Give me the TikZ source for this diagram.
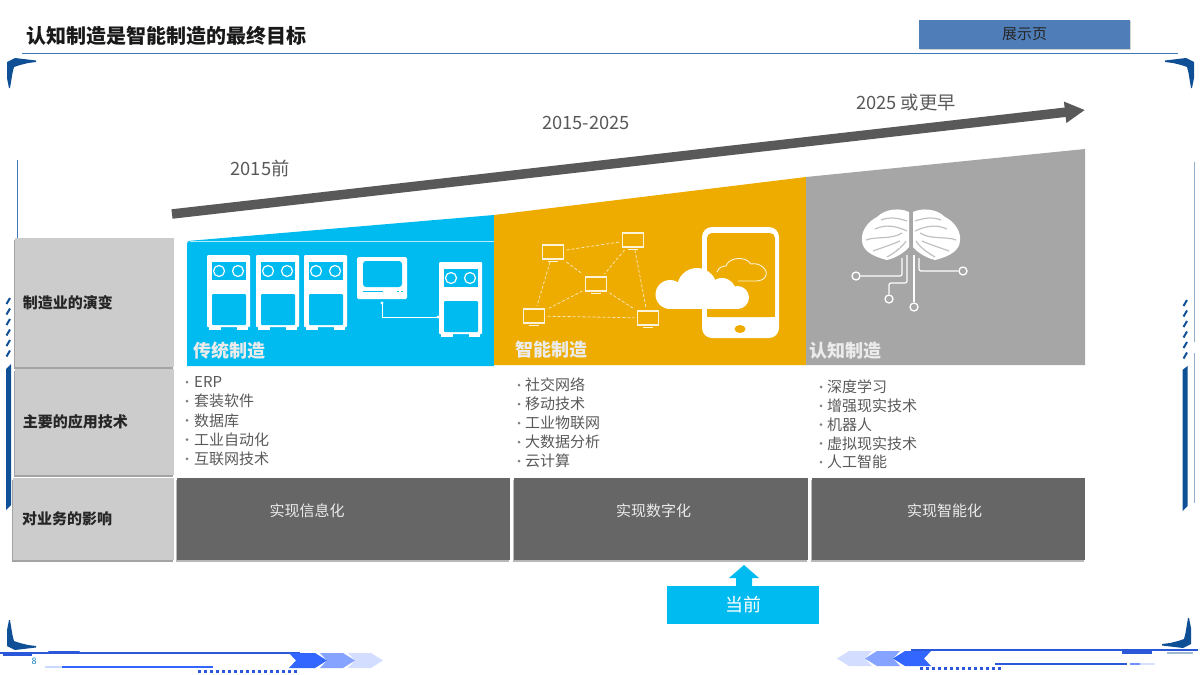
\documentclass[tikz,border=0pt]{standalone}
\usepackage{fontspec}
\usepackage{tikz}
\usetikzlibrary{arrows.meta,shadows}
\setmainfont{Noto Sans CJK SC}
\newcommand{\fsize}[1]{\fontsize{#1}{#1}\selectfont}
\definecolor{skyblue}{RGB}{0,187,240}
\definecolor{amber}{RGB}{238,172,0}
\definecolor{midgray}{RGB}{166,166,166}
\definecolor{lightgray}{RGB}{204,204,204}
\definecolor{darkgray}{RGB}{102,102,102}
\definecolor{navy}{RGB}{15,79,150}
\definecolor{royal}{RGB}{51,102,255}
\definecolor{steel}{RGB}{79,125,184}
\definecolor{ruleblue}{RGB}{60,120,185}
\tikzset{
  rowbox/.style={fill=lightgray,inner xsep=8pt,inner ysep=0pt,text width=143pt,align=left,
    font=\fsize{15}\bfseries,text=black!85,drop shadow={shadow xshift=-1.5pt,shadow yshift=-2pt,fill=black!45,opacity=0.8}},
  effectbox/.style={fill=darkgray,inner sep=0pt,drop shadow={shadow xshift=-1pt,shadow yshift=-1.5pt,fill=black!35,opacity=0.8}},
  stagelabel/.style={font=\fsize{18}\bfseries,text=white!92!black},
  yearlabel/.style={font=\fsize{18.3},text=black!65},
  itemlabel/.style={anchor=west,inner sep=0pt,font=\fsize{15},text=black!65},
  effectlabel/.style={font=\fsize{15},text=white!92!black},
  monitor/.style={draw=white!85!amber,line width=1.2pt,minimum width=21pt,minimum height=14pt,inner sep=0pt,outer sep=3pt},
  netline/.style={white!70!amber,line width=0.8pt,densely dashed},
  ring/.style={circle,draw=white,line width=1.3pt,minimum size=8pt,inner sep=0pt},
  wire/.style={white,line width=1.2pt,rounded corners=2pt},
}
\begin{document}
\begin{tikzpicture}[x=1pt,y=-1pt]
\useasboundingbox (0,0) rectangle (1200,675);

\node[anchor=west,inner sep=0pt,font=\fsize{20}\bfseries,text=black!90] (title) at (26,36) {认知制造是智能制造的最终目标};
\draw[ruleblue,line width=0.8pt] (22,53) -- (1178,53);
\node[fill=steel,minimum width=211pt,minimum height=29pt,inner sep=0pt,font=\fsize{15},text=black!85,
  drop shadow={shadow xshift=0.5pt,shadow yshift=-1pt,fill=black!35}] (showpage) at (1024.5,34.5) {展示页};

\foreach \sx/\sy/\dx/\dy in {1/1/0/0,-1/1/1201/0,1/-1/0/-708,-1/-1/1198/-706} {
  \begin{scope}[xshift=\dx pt,yshift=\dy pt,xscale=\sx,yscale=\sy]
  \fill[navy] (36,60.5) -- (15,58) -- (7,62) -- (7,78) -- (9,88) -- (10,88) -- (12.5,73) -- (14,67) -- (20,65) -- (28,63) -- (36,62) -- cycle;
  \end{scope}
}

\draw[ruleblue,line width=0.9pt] (17,160) -- (17,238);
\draw[navy!45,line width=1pt] (1194,162) -- (1194,342);
\draw[navy!45,line width=1pt] (1194,353) -- (1194,503);
\foreach \y in {0,...,5} {
  \draw[navy,line width=2pt] (6.5,304+10.5*\y) -- (10,298+10.5*\y);
  \draw[navy,line width=2pt] (1183.5,306+10.5*\y) -- (1187,300+10.5*\y);
}
\fill[navy] (6,369) -- (11,364) -- (11,505) -- (6,510) -- cycle;
\fill[navy] (1182.5,370) -- (1187.5,366) -- (1187.5,506) -- (1182.5,511) -- cycle;

\fill[skyblue] (187,366) -- (187,244) .. controls (187,242) and (188,241) .. (190,240.8) -- (494,215) -- (494,366) -- cycle;
\draw[white!70!skyblue,line width=0.6pt] (190,241) -- (494,241);
\fill[amber] (494,215) -- (806,177) -- (806,365) -- (494,365) -- cycle;
\fill[midgray] (806,177) -- (1085,149) -- (1085,365) -- (806,365) -- cycle;

\coordinate (arrowstart) at (172,214);
\coordinate (arrowend) at (1085,110);
\draw[black!65,line width=9.5pt,-{Triangle[width=20pt,length=20pt]}] (arrowstart) -- (arrowend);
\node[yearlabel] (yearone) at (260,168) {2015前};
\node[yearlabel] (yeartwo) at (586,123) {2015-2025};
\node[yearlabel] (yearthree) at (906,103) {2025 或更早};

\foreach \x/\y in {207/255,256/255,304/255,439/262} {
  \begin{scope}[xshift=\x pt,yshift=-\y pt]
  \fill[white,rounded corners=1pt] (0,0) rectangle (43,72);
  \fill[white] (2,72) rectangle (14,74.5);
  \fill[white] (30,72) rectangle (41,74.5);
  \fill[skyblue] (5,7) rectangle (39,25);
  \fill[skyblue,rounded corners=1pt] (5,39) rectangle (39,70);
  \draw[white,line width=1.2pt] (12,16) circle (5.5);
  \draw[white,line width=1.2pt] (31,16) circle (5.5);
  \end{scope}
}
\fill[white,rounded corners=1.5pt] (357,257) rectangle (407,299);
\fill[skyblue,rounded corners=3pt] (363,261) rectangle (402,287);
\fill[skyblue] (363,290.5) rectangle (383,292);
\fill[skyblue] (397,290.5) rectangle (399,292);
\fill[skyblue] (401,290.5) rectangle (403,292);
\fill[white] (382,303) circle (1.6);
\fill[white] (438,317) circle (1.6);
\coordinate (tvport) at (382,303);
\coordinate (serverport) at (438,317);
\draw[white,line width=1pt] (tvport) |- (serverport);
\node[stagelabel] (classic) at (229.5,351) {传统制造};

\foreach \n/\x/\y in {mona/553/252,monb/633/240,monc/596/284,mond/534/316,mone/648/318} {
  \node[monitor] (\n) at (\x,\y) {};
  \draw[white!85!amber,line width=1.2pt] (\x-5,\y+9.5) -- (\x+5,\y+9.5);
}
\foreach \a/\b in {mona/monb,mona/monc,monb/monc,mona/mond,monb/mone,monc/mond,monc/mone,mond/mone} {
  \draw[netline] (\a) -- (\b);
}
\fill[white,rounded corners=10pt] (702,227) rectangle (779,338);
\fill[amber,rounded corners=5pt] (707,233) rectangle (775,317);
\fill[amber] (707,305) rectangle (775,317);
\fill[amber] (740,329) ellipse (5.5 and 4);
\draw[white!85!amber,line width=0.9pt] (717,272) .. controls (719,267) and (723,266) .. (726,266)
  .. controls (728,258) and (745,255) .. (751,264) .. controls (760,262) and (768,270) .. (766,275)
  .. controls (765,279) and (761,281) .. (756,281) -- (738,281);
\fill[white] (670,294.5) circle (14.5);
\fill[white] (697,288) circle (20);
\fill[white] (722,292) circle (14);
\fill[white] (737.5,297.5) circle (11.5);
\fill[white] (670,295) rectangle (737.5,309);
\node[stagelabel] (smart) at (551.5,350) {智能制造};

\foreach \sx in {1,-1} {
  \begin{scope}[xshift=911pt,xscale=\sx]
  \fill[white] (-2,212) .. controls (-10,208) and (-25,208) .. (-34,217) .. controls (-44,222) and (-50,232) .. (-49,240)
    .. controls (-49,250) and (-40,256) .. (-24,260) .. controls (-15,258) and (-6,252) .. (-2,247) -- cycle;
  \draw[midgray!70,line width=1.2pt] (-4,221) .. controls (-10,219) and (-20,216) .. (-30,220);
  \draw[midgray!70,line width=1.2pt] (-36,229) .. controls (-25,224) and (-15,226) .. (-4,231);
  \draw[midgray!70,line width=1.2pt] (-45,240) .. controls (-35,236) and (-20,240) .. (-9,233);
  \draw[midgray!70,line width=1.2pt] (-38,251) .. controls (-30,248) and (-20,245) .. (-11,241);
  \draw[midgray!70,line width=1.2pt] (-24,257) .. controls (-15,252) and (-8,246) .. (-5,241);
  \end{scope}
}
\node[ring] (ringa) at (856,276) {};
\node[ring] (ringb) at (889,299) {};
\node[ring] (ringc) at (914,307) {};
\node[ring] (ringd) at (963,271) {};
\coordinate (rootA) at (902,258);
\coordinate (rootB) at (907,255);
\coordinate (rootC) at (914,255);
\coordinate (rootD) at (919,258);
\draw[wire] (rootA) |- (ringa);
\draw[wire] (rootB) -- (907,283) -- (889,283) -- (ringb);
\draw[wire] (rootC) -- (ringc);
\draw[wire] (rootD) |- (ringd);
\node[stagelabel] (cognitive) at (845.5,351) {认知制造};

\node[rowbox,minimum height=129pt] (evolution) at (94.5,302.5) {制造业的演变};
\node[rowbox,minimum height=106pt] (technology) at (94.5,422) {主要的应用技术};
\node[rowbox,minimum height=82pt,inner xsep=9pt,text width=143pt] (impact) at (93.5,519) {对业务的影响};

\foreach \t [count=\i] in {ERP,套装软件,数据库,工业自动化,互联网技术} {
  \node[itemlabel] (itema\i) at (194,{382+19.2*(\i-1)}) {\t};
  \fill[black!50] (187,{382+19.2*(\i-1)}) circle (1.5);
}
\foreach \t [count=\i] in {社交网络,移动技术,工业物联网,大数据分析,云计算} {
  \node[itemlabel] (itemb\i) at (525,{385+19*(\i-1)}) {\t};
  \fill[black!50] (519,{385+19*(\i-1)}) circle (1.5);
}
\foreach \t [count=\i] in {深度学习,增强现实技术,机器人,虚拟现实技术,人工智能} {
  \node[itemlabel] (itemc\i) at (827,{387+18.8*(\i-1)}) {\t};
  \fill[black!50] (821,{387+18.8*(\i-1)}) circle (1.5);
}

\node[effectbox,minimum width=333pt,minimum height=82pt] (effecta) at (343.5,519) {};
\node[effectbox,minimum width=294pt,minimum height=82pt] (effectb) at (661,519) {};
\node[effectbox,minimum width=273pt,minimum height=82pt] (effectc) at (948.5,519) {};
\node[effectlabel] (infolabel) at (307,511) {实现信息化};
\node[effectlabel] (digilabel) at (653.5,511) {实现数字化};
\node[effectlabel] (intelabel) at (944.5,511) {实现智能化};

\node[fill=skyblue,minimum width=152pt,minimum height=38pt,inner sep=0pt,font=\fsize{18},text=white] (now) at (743,605) {当前};
\fill[skyblue] (744,565) -- (759,578) -- (752,578) -- (752,586) -- (736,586) -- (736,578) -- (729,578) -- cycle;

\draw[royal!85!black,line width=1.2pt] (0,653) -- (300,653);
\draw[royal!85!black,line width=2pt] (3,654.5) -- (32,654.5);
\draw[royal!85!black,line width=3pt,line cap=round] (49,652.5) -- (79,652.5);
\draw[royal!25,line width=1.5pt] (45,667) -- (62,667);
\draw[royal,line width=1.5pt] (62,667) -- (213,667);
\draw[royal!85!black,line width=3.5pt,dash pattern=on 2.5pt off 3.5pt] (198,671.5) -- (297,671.5);
\node[inner sep=0pt,font=\fsize{9},text=navy!60!skyblue] (pagenum) at (34,661) {8};
\draw[royal!85!black,line width=1.2pt] (911,650) -- (1198,650);
\draw[royal!85!black,line width=3pt] (1122,652) -- (1152,652);
\draw[navy!40,line width=2pt] (1167,652.5) -- (1193,652.5);
\draw[royal!85!black,line width=1.5pt] (995,664) -- (1127,664);
\draw[royal!70,line width=1.5pt] (1130,664) -- (1140,664);
\draw[royal!20,line width=1.5pt] (1140,664) -- (1155,664);
\draw[royal!85!black,line width=3.5pt,dash pattern=on 2.5pt off 3.5pt] (920,668.5) -- (1001,668.5);
\foreach \sx/\dx/\dy in {1/0/0,-1/1220/2} {
  \begin{scope}[xshift=\dx pt,yshift=\dy pt,xscale=\sx]
  \foreach \a/\b/\c in {348/383/royal!22,320/355/royal!60,289/327/royal} {
    \fill[\c] (\a,653) -- (\b-12,653) -- (\b,660.5) -- (\b-12,668) -- (\a,668) -- (\a+7,660.5) -- cycle;
  }
  \end{scope}
}
\end{tikzpicture}
\end{document}
